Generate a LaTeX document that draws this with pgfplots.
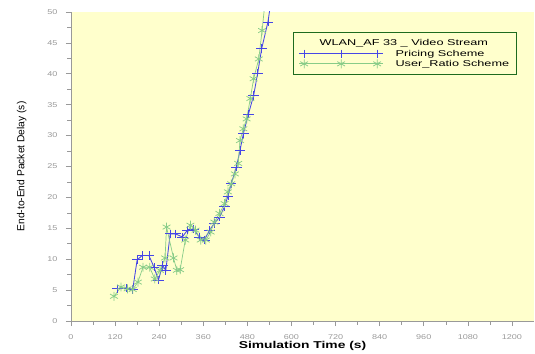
\documentclass[border=0pt]{standalone}
\usepackage{graphicx}
\usepackage{pgfplots}
\pgfplotsset{compat=1.18}
\usepackage{fontspec}
\setmainfont{Liberation Sans}
\definecolor{bgy}{HTML}{FFFFCC}
\definecolor{myblue}{HTML}{4646E6}
\definecolor{mygreen}{HTML}{88CC88}
\definecolor{lgd}{HTML}{1E6B1E}
\definecolor{tk}{HTML}{999999}
\begin{document}
\begin{tikzpicture}
\useasboundingbox (0,0) rectangle (535bp,354bp);
\begin{axis}[
  at={(71bp,33bp)}, anchor=south west,
  scale only axis, width=463bp, height=309bp,
  xmin=0, xmax=1260, ymin=0, ymax=50,
  xtick={0,120,...,1200}, minor x tick num=1,
  ytick={0,5,...,50}, minor y tick num=1,
  axis x line*=bottom, axis y line*=left,
  axis line style={tk, -},
  tick style={tk, line width=0.6pt}, major tick length=5bp, minor tick length=3.5bp,
  tick align=outside,
  axis background/.style={fill=bgy},
  ticklabel style={font=\fontsize{7}{8}\selectfont, text=tk, xscale=1.3},
  yticklabel style={xshift=-3bp},
  xticklabel style={yshift=-5bp},
  /pgf/number format/assume math mode=true,
  /pgf/number format/1000 sep={},
  xlabel={\textbf{Simulation Time (s)}},
  xlabel style={font=\fontsize{10}{10}\selectfont, xscale=1.39, yshift=5bp},
  ylabel={End-to-End Packet Delay (s)},
  ylabel style={font=\fontsize{10.3}{11}\selectfont, yshift=13bp},
  legend style={at={(0.4795,0.935)}, anchor=north west, draw=lgd, line width=1.4pt, fill=bgy,
    font=\fontsize{8.5}{9}\selectfont, row sep=-1.5bp, column sep=10bp, inner xsep=5bp, inner ysep=5bp},
  legend cell align=left,
  legend image code/.code={\draw[mark indices={2,3,4}] plot coordinates {(0bp,0)(5bp,0)(42bp,0)(78bp,0)(84bp,0)};},
  clip=true,
]
\addlegendimage{empty legend}
\addlegendentry{\makebox[0pt][l]{\hspace*{-76bp}\scalebox{1.5}[1]{WLAN\_AF 33 \_ Video Stream}}}
\addplot[color=myblue, draw=myblue, line width=0.85pt, mark=+, mark size=4.2pt, mark options={draw=myblue, line width=0.75pt, xscale=1.25}] coordinates {
(126,5.2)(150,5.3)(168,5.1)(180,9.9)(194,10.6)(212,10.6)(226,8.7)(238,6.6)(249,9.0)(258,8.2)
(270,14.1)(284,14.1)(303,13.6)(317,14.7)(333,14.9)(349,13.6)(363,13.1)(377,14.7)(390,15.8)
(404,16.8)(418,18.5)(427,20.2)(436,22.2)(450,24.9)(460,27.6)(469,30.3)(483,33.5)(497,36.5)
(508,40.1)(519,44.1)(536,48.4)(545,52)};
\addlegendentry{\scalebox{1.5}[1]{Pricing Scheme}}
\addplot[color=mygreen, draw=mygreen, line width=0.7pt, mark=asterisk, mark size=4.5pt, mark options={draw=mygreen, line width=0.75pt}] coordinates {
(117,4.0)(136,5.5)(154,5.2)(168,5.1)(182,6.3)(196,8.7)(214,8.7)(228,6.8)(242,8.2)(256,10.2)
(260,15.2)(279,10.2)(288,8.2)(297,8.3)(311,13.1)(325,15.5)(339,14.7)(353,13.1)(367,13.1)
(380,14.4)(390,16.0)(404,17.4)(418,19.0)(427,20.9)(436,22.2)(446,23.8)(455,25.5)(460,29.2)
(469,31.1)(478,32.7)(488,36.0)(497,39.2)(511,42.4)(520,47.0)(527,51)};
\addlegendentry{\scalebox{1.5}[1]{User\_Ratio Scheme}}
\end{axis}
\end{tikzpicture}
\end{document}
